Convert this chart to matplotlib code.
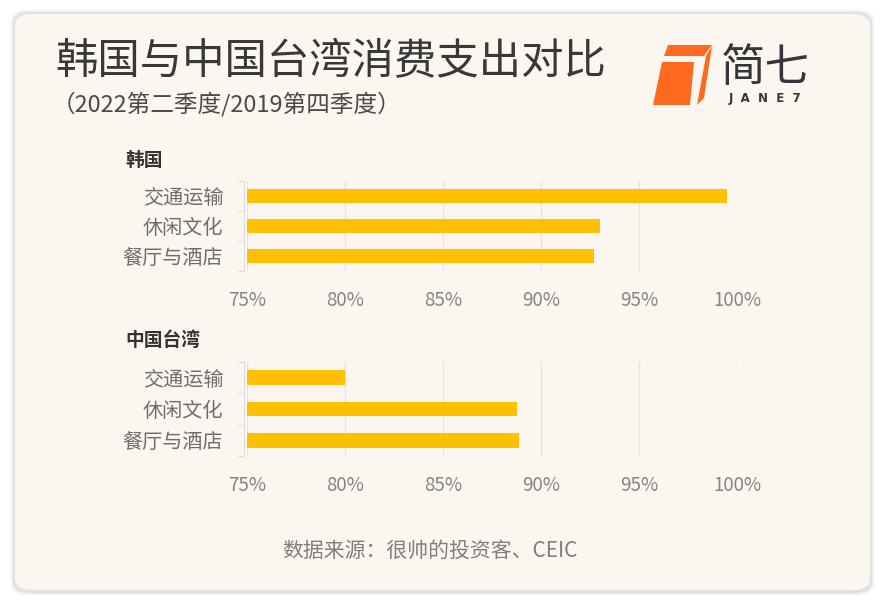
import matplotlib
matplotlib.use('Agg')
from matplotlib import pyplot as plt
from matplotlib.patches import FancyBboxPatch, Polygon

plt.rcParams['font.family'] = ['Noto Sans CJK SC', 'DejaVu Sans']

W, H = 885, 605

categories = ['交通运输', '休闲文化', '餐厅与酒店']
korea = [99.5, 93.0, 92.7]
taiwan = [80.0, 88.8, 88.9]
xticks = [75, 80, 85, 90, 95, 100]
xticklabels = ['75%', '80%', '85%', '90%', '95%', '100%']

BAR = '#FFC000'
CARD = '#FCF6F0'


def px(x0, y0, x1, y1):
    # pixel box (top-left origin) -> figure rect
    return [x0 / W, 1 - y1 / H, (x1 - x0) / W, (y1 - y0) / H]


fig = plt.figure(figsize=(W / 100, H / 100), dpi=100)
fig.patch.set_facecolor('white')

# card with soft shadow
for i, a in enumerate([0.015, 0.025, 0.035, 0.045]):
    g = 5 - i
    fig.patches.append(FancyBboxPatch(
        ((15 - g) / W, 1 - (591 + g) / H), (855 + 2 * g) / W, (577 + 2 * g) / H,
        boxstyle='round,pad=0,rounding_size=0.02', transform=fig.transFigure,
        facecolor='black', edgecolor='none', alpha=a, zorder=0))
fig.patches.append(FancyBboxPatch(
    (15 / W, 1 - 590 / H), 855 / W, 576 / H,
    boxstyle='round,pad=0,rounding_size=0.02', transform=fig.transFigure,
    facecolor=CARD, edgecolor='none', zorder=0.5))

fig.text(55 / W, 1 - 62 / H, '韩国与中国台湾消费支出对比', fontsize=30.5,
         color='#383838', va='center', ha='left')
fig.text(52 / W, 1 - 104 / H, '（2022第二季度/2019第四季度）', fontsize=17,
         color='#4a4a4a', va='center', ha='left')

# logo
orange = '#FF6A1F'
fig.patches.append(Polygon([(668 / W, 1 - 45 / H), (712 / W, 1 - 45 / H),
                            (704 / W, 1 - 56 / H), (664 / W, 1 - 56 / H)],
                           closed=True, transform=fig.transFigure,
                           facecolor=orange, edgecolor='none', zorder=1))
fig.patches.append(Polygon([(662 / W, 1 - 62 / H), (694 / W, 1 - 62 / H),
                            (690 / W, 1 - 105 / H), (653 / W, 1 - 105 / H)],
                           closed=True, transform=fig.transFigure,
                           facecolor=orange, edgecolor='none', zorder=1))
fig.patches.append(Polygon([(706 / W, 1 - 56 / H), (712 / W, 1 - 46 / H),
                            (704 / W, 1 - 98 / H), (697 / W, 1 - 105 / H)],
                           closed=True, transform=fig.transFigure,
                           facecolor=orange, edgecolor='none', zorder=1))
fig.text(765 / W, 1 - 68 / H, '简七', fontsize=32, color='#33363B',
         va='center', ha='center', fontweight='light')
fig.text(765 / W, 1 - 99 / H, 'J  A  N  E  7', fontsize=8.5, color='#33363B',
         va='center', ha='center', fontweight='bold', family='DejaVu Sans')


def panel(rect, values, title, title_y):
    ax = fig.add_axes(px(*rect))
    ax.set_zorder(2)
    ax.set_facecolor('none')
    y = list(range(len(categories)))
    ax.barh(y, [v - 75 for v in values], left=75, height=0.46, color=BAR,
            zorder=3)
    ax.set_xlim(75, 100)
    ax.set_ylim(len(categories) - 0.5, -0.5)
    ax.set_xticks(xticks, xticklabels)
    ax.set_yticks([-0.5, 0.5, 1.5, 2.5], minor=True)
    ax.set_yticks(y, categories)
    ax.tick_params(axis='x', length=0, pad=14, labelsize=13.5,
                   labelcolor='#858585')
    ax.tick_params(axis='y', which='major', length=0, pad=15, labelsize=14.5,
                   labelcolor='#6e6e6e')
    ax.tick_params(axis='y', which='minor', length=4, color='#dddddd',
                   width=1)
    ax.grid(axis='x', color='#e4e4e4', linewidth=1, zorder=0)
    for s in ['top', 'right', 'bottom']:
        ax.spines[s].set_visible(False)
    ax.spines['left'].set_color('#dddddd')
    ax.spines['left'].set_position(('outward', 2))
    fig.text(125 / W, 1 - title_y / H, title, fontsize=13.5,
             fontweight='bold', color='#333333', va='center', ha='left')
    return ax


panel((247, 181, 737, 271), korea, '韩国', 160)
panel((247, 362, 737, 456), taiwan, '中国台湾', 340)

fig.text(430 / W, 1 - 551 / H, '数据来源：很帅的投资客、CEIC', fontsize=15,
         color='#7f7f7f', va='center', ha='center')

fig.savefig('out.png', dpi=100, facecolor=fig.get_facecolor())
